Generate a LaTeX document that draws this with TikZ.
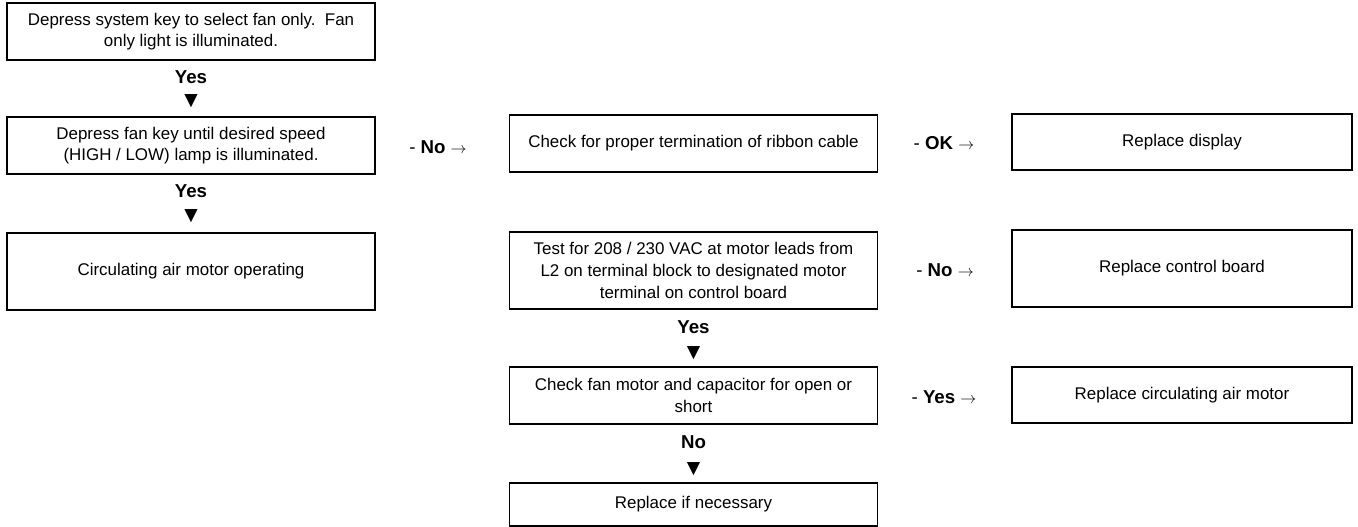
\documentclass[tikz,border=0pt]{standalone}
\usepackage{fontspec}
\setmainfont{Liberation Sans}

\tikzset{every picture/.style={line width=0.75pt}}
\tikzset{
	stepbox/.style={draw, line width=1.4pt, align=center, inner sep=0pt, font=\fontsize{12.7}{16.3}\selectfont},
	colbox/.style={stepbox, minimum width=276pt},
	endbox/.style={stepbox, minimum width=255pt},
	shortbox/.style={minimum height=42.5pt},
	tallbox/.style={minimum height=57.75pt},
	answer/.style={inner sep=0pt, font=\fontsize{14}{16}\selectfont\bfseries},
	tip/.style={inner sep=0pt, font=\fontsize{17}{18}\selectfont},
	branch/.style={inner sep=0pt, font=\fontsize{14}{16}\selectfont}
}
\newcommand{\sidearrow}{{\fontsize{11.5}{12}\selectfont$\rightarrow$}}

\begin{document}
\begin{tikzpicture}[x=0.75pt,y=0.75pt,yscale=-1,xscale=1]
	%set diagram to 1358 x 527
	\useasboundingbox (0,0) rectangle (1358,527);
	
	%Shape: Rectangle [fan only]
	\draw (191,31.5) node (fanonly) [colbox, shortbox] {Depress system key to select fan only.\ \ Fan\\only light is illuminated.};
	% Text Node
	\draw (191,77) node (yesa) [answer] {Yes};
	\draw (191,101) node (tipa) [tip] {▼};
	%Shape: Rectangle [fan speed]
	\draw (191,145.5) node (speed) [colbox, shortbox] {Depress fan key until desired speed\\(HIGH / LOW) lamp is illuminated.};
	% Text Node
	\draw (191,191) node (yesb) [answer] {Yes};
	\draw (191,216) node (tipb) [tip] {▼};
	%Shape: Rectangle [motor running]
	\draw (191,271.5) node (running) [colbox, tallbox] {Circulating air motor operating};
	
	% Text Node
	\draw (438,147) node (noa) [branch] {- \textbf{No} \sidearrow};
	
	%Shape: Rectangle [ribbon cable]
	\draw (693.5,143.5) node (ribbon) [colbox, shortbox] {Check for proper termination of ribbon cable};
	%Shape: Rectangle [voltage test]
	\draw (693.5,270.5) node (voltage) [colbox, tallbox] {Test for 208 / 230 VAC at motor leads from\\L2 on terminal block to designated motor\\terminal on control board};
	% Text Node
	\draw (693.5,327) node (yesc) [answer] {Yes};
	\draw (693.5,353) node (tipc) [tip] {▼};
	%Shape: Rectangle [capacitor check]
	\draw (693.5,395.5) node (capacitor) [colbox, shortbox] {Check fan motor and capacitor for open or\\short};
	% Text Node
	\draw (693.5,442) node (nob) [answer] {No};
	\draw (693.5,469) node (tipd) [tip] {▼};
	%Shape: Rectangle [replace part]
	\draw (693.5,504.5) node (ifneeded) [colbox, minimum height=32.25pt] {Replace if necessary};
	
	% Text Node
	\draw (944,143) node (oka) [branch] {- \textbf{OK} \sidearrow};
	\draw (945,270) node (noc) [branch] {- \textbf{No} \sidearrow};
	\draw (944,397) node (yesd) [branch] {- \textbf{Yes} \sidearrow};
	
	%Shape: Rectangle [display]
	\draw (1182,142) node (display) [endbox, shortbox] {Replace display};
	%Shape: Rectangle [control board]
	\draw (1182,268.5) node (board) [endbox, tallbox] {Replace control board};
	%Shape: Rectangle [air motor]
	\draw (1182,395) node (airmotor) [endbox, shortbox] {Replace circulating air motor};
	
\end{tikzpicture}
\end{document}
